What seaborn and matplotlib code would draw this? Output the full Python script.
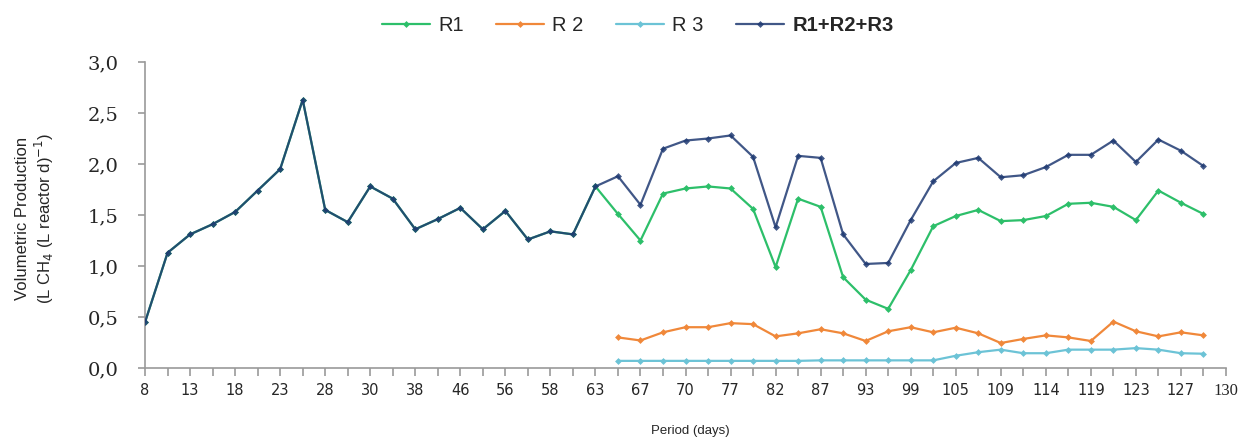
import numpy as np
import pandas as pd
import matplotlib
matplotlib.use("Agg")
import matplotlib.pyplot as plt
import seaborn as sns

# x axis: 49 category slots, every second one labelled
day_labels = ["8", "13", "18", "23", "28", "30", "38", "46", "56", "58", "63", "67",
              "70", "77", "82", "87", "93", "99", "105", "109", "114", "119", "123", "127", "130"]
n_slots = 49

total = [0.45, 1.13, 1.31, 1.41, 1.53, 1.74, 1.95, 2.63, 1.55, 1.43, 1.78, 1.66, 1.36,
         1.46, 1.57, 1.36, 1.54, 1.26, 1.34, 1.31, 1.78, 1.88, 1.60, 2.15, 2.23, 2.25,
         2.28, 2.07, 1.38, 2.08, 2.06, 1.31, 1.02, 1.03, 1.45, 1.83, 2.01, 2.06, 1.87,
         1.89, 1.97, 2.09, 2.09, 2.23, 2.02, 2.24, 2.13, 1.98]
r1 = total[:21] + [1.51, 1.25, 1.71, 1.76, 1.78, 1.76, 1.56, 0.99, 1.66, 1.58, 0.89, 0.67,
                   0.58, 0.96, 1.39, 1.49, 1.55, 1.44, 1.45, 1.49, 1.61, 1.62, 1.58, 1.45,
                   1.74, 1.62, 1.51]
r2 = [np.nan] * 21 + [0.30, 0.27, 0.35, 0.40, 0.40, 0.44, 0.43, 0.31, 0.34, 0.38, 0.34,
                      0.265, 0.36, 0.40, 0.35, 0.395, 0.34, 0.245, 0.285, 0.32, 0.30, 0.265,
                      0.455, 0.36, 0.31, 0.35, 0.32]
r3 = [np.nan] * 21 + [0.07, 0.07, 0.07, 0.07, 0.07, 0.07, 0.07, 0.07, 0.07, 0.075, 0.075,
                      0.075, 0.075, 0.075, 0.075, 0.12, 0.155, 0.18, 0.145, 0.145, 0.18,
                      0.18, 0.18, 0.195, 0.18, 0.145, 0.14]

series = {"R1": r1, "R 2": r2, "R 3": r3, "R1+R2+R3": total}
colors = {"R1": "#2dbf6a", "R 2": "#f0883a", "R 3": "#6cc3d6", "R1+R2+R3": "#1f3a72"}

sns.set_style("white")
fig = plt.figure(figsize=(12.43, 4.41), dpi=100)
ax = fig.add_axes([0.1167, 0.1655, 0.8696, 0.6939])

for name, vals in series.items():
    df = pd.DataFrame({"slot": np.arange(len(vals)), "value": vals})
    sns.lineplot(data=df, x="slot", y="value", ax=ax, color=colors[name], label=name,
                 marker="D", markersize=3.5, markeredgewidth=0, linewidth=1.6,
                 alpha=0.85 if name == "R1+R2+R3" else 1.0,
                 zorder=3 if name == "R1+R2+R3" else 2)

ax.set_xlim(0, n_slots - 1)
ax.set_ylim(0, 3)
ax.set_yticks(np.arange(0, 3.01, 0.5))
ax.set_yticklabels([f"{v:.1f}".replace(".", ",") for v in np.arange(0, 3.01, 0.5)],
                   family="DejaVu Serif", fontsize=14)
ax.set_xticks(np.arange(0, n_slots, 2))
ax.set_xticks(np.arange(0, n_slots), minor=True)
ax.set_xticklabels(day_labels, fontsize=10.5)
ax.get_xticklabels()[-1].set_family("Liberation Serif")
ax.get_xticklabels()[-1].set_fontsize(12)

for s in ["top", "right"]:
    ax.spines[s].set_visible(False)
for s in ["left", "bottom"]:
    ax.spines[s].set_color("#9a9a9a")
    ax.spines[s].set_linewidth(1.2)
ax.tick_params(axis="x", which="both", direction="out", length=6, width=1.2,
               color="#9a9a9a", bottom=True, pad=5)
ax.tick_params(axis="y", direction="out", length=5, width=1.2, color="#9a9a9a",
               left=True, pad=14)
ax.grid(False)

ax.set_xlabel("Period (days)", family="Liberation Sans", fontsize=9.5)
ax.xaxis.set_label_coords(0.504, -0.185)
ax.set_ylabel("Volumetric Production\n(L CH$_4$ (L reactor d)$^{-1}$)",
              family="Liberation Sans", fontsize=12)
ax.yaxis.set_label_coords(-0.082, 0.49)

leg = ax.legend(loc="upper center", bbox_to_anchor=(0.513, 1.005), bbox_transform=fig.transFigure,
                ncol=4, frameon=False, fontsize=14.5, handlelength=2.4, columnspacing=1.6,
                handletextpad=0.4)
for t in leg.get_texts():
    t.set_family("Liberation Sans")
leg.get_texts()[-1].set_fontweight("bold")

fig.savefig("out.png", dpi=100)
